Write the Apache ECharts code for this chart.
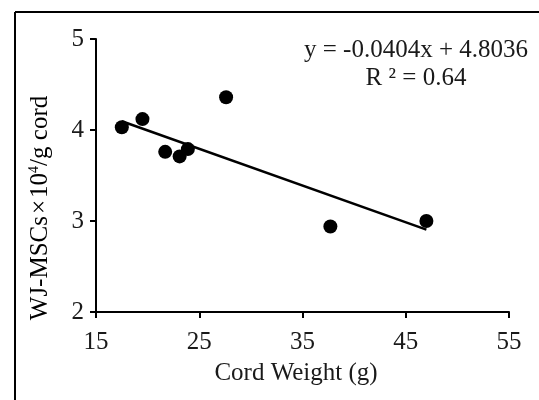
<!DOCTYPE html>
<html>
<head>
<meta charset="utf-8">
<script src="https://cdn.jsdelivr.net/npm/echarts@6/dist/echarts.min.js"></script>
<style>html,body{margin:0;padding:0;background:#fff}#c{width:539px;height:400px}</style>
</head>
<body>
<div id="c"></div>
<script>
const cordWeight = [17.5, 19.5, 21.7, 23.1, 23.9, 27.6, 37.7, 47.0];
const mscCount = [4.03, 4.12, 3.76, 3.71, 3.79, 4.36, 2.94, 3.00];
const xTickValues = [15, 25, 35, 45, 55];
const yTickValues = [2, 3, 4, 5];
const trendSlope = -0.0404;
const trendIntercept = 4.8036;
const trendRange = [17.5, 47.0];
const equationText = 'y = -0.0404x + 4.8036';
const r2Text = 'R ² = 0.64';
const xAxisTitle = 'Cord Weight (g)';

const FONT = 'Liberation Serif';
const INK = '#000';
const TXT = '#1a1a1a';
const points = cordWeight.map((w, i) => [w, mscCount[i]]);
const trend = trendRange.map(x => [x, trendSlope * x + trendIntercept]);

const chart = echarts.init(document.getElementById('c'), null, {renderer: 'canvas'});
chart.setOption({
  animation: false,
  backgroundColor: '#fff',
  grid: {left: 96, right: 30, top: 39, bottom: 88, containLabel: false},
  xAxis: {
    type: 'value', min: xTickValues[0], max: xTickValues[xTickValues.length - 1], interval: 10,
    axisLine: {lineStyle: {color: INK, width: 2}},
    axisTick: {show: true, length: 6, lineStyle: {color: INK, width: 2}},
    splitLine: {show: false},
    axisLabel: {fontFamily: FONT, fontSize: 25, color: TXT, margin: 18}
  },
  yAxis: {
    type: 'value', min: yTickValues[0], max: yTickValues[yTickValues.length - 1], interval: 1,
    axisLine: {show: true, lineStyle: {color: INK, width: 2}},
    axisTick: {show: true, length: 6, lineStyle: {color: INK, width: 2}},
    splitLine: {show: false},
    axisLabel: {fontFamily: FONT, fontSize: 25, color: TXT, margin: 12}
  },
  series: [
    {
      type: 'line', data: trend, symbol: 'none', z: 2,
      lineStyle: {color: INK, width: 2.5}
    },
    {
      type: 'scatter', data: points, symbol: 'circle', symbolSize: 14, z: 3,
      itemStyle: {color: INK, opacity: 1}
    }
  ],
  graphic: [
    {type: 'line', shape: {x1: 15, y1: 12, x2: 539, y2: 12}, style: {stroke: '#000', lineWidth: 2}},
    {type: 'line', shape: {x1: 15, y1: 12, x2: 15, y2: 400}, style: {stroke: '#000', lineWidth: 2}},
    {type: 'text', x: 416, y: 50, style: {text: equationText, font: '25px ' + FONT, fill: TXT, align: 'center', verticalAlign: 'middle'}},
    {type: 'text', x: 416, y: 78, style: {text: r2Text, font: '25px ' + FONT, fill: TXT, align: 'center', verticalAlign: 'middle'}},
    {type: 'text', x: 296, y: 373, style: {text: xAxisTitle, font: '25px ' + FONT, fill: TXT, align: 'center', verticalAlign: 'middle'}},
    {type: 'text', x: 40, y: 208, rotation: Math.PI / 2,
      style: {
        text: '{a|WJ-MSCs}{b|×}{a|10}{s|4}{a|/g cord}',
        align: 'center', verticalAlign: 'middle',
        rich: {
          a: {fontFamily: FONT, fontSize: 25, color: TXT},
          b: {fontFamily: FONT, fontSize: 25, color: TXT, padding: [0, 2, 0, 2]},
          s: {fontFamily: FONT, fontSize: 14, color: TXT, verticalAlign: 'top', padding: [0, 0, 10, 0]}
        }
      }
    }
  ]
});
</script>
</body>
</html>
